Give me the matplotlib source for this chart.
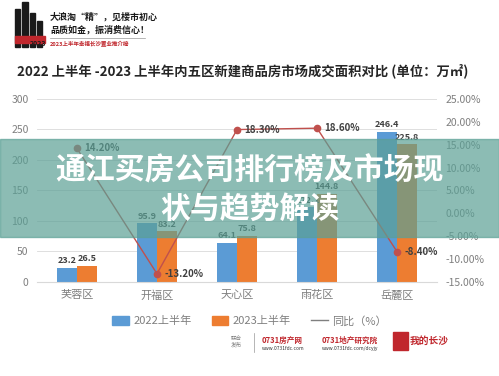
import matplotlib
matplotlib.use("Agg")
import matplotlib.pyplot as plt
import numpy as np
from matplotlib.patches import Rectangle, Patch
from matplotlib.lines import Line2D
from matplotlib.ticker import FuncFormatter

plt.rcParams["font.family"] = ["Noto Sans CJK SC", "DejaVu Sans"]

districts = ["芙蓉区", "开福区", "天心区", "雨花区", "岳麓区"]
area_2022 = [23.2, 95.9, 64.1, 122.1, 246.4]
area_2023 = [26.5, 83.2, 75.8, 144.8, 225.8]
yoy_pct = [14.2, -13.2, 18.3, 18.6, -8.4]

BLUE = "#5B9BD5"
ORANGE = "#ED7D31"
RED = "#C0504D"
TXT = "#404040"
GRAY = "#7F7F7F"

fig = plt.figure(figsize=(4.99, 3.76), dpi=100)
fig.patch.set_facecolor("white")

ax = fig.add_axes([0.074, 0.250, 0.802, 0.487])
ax2 = ax.twinx()

x = np.arange(len(districts))
w = 0.245
b1 = ax.bar(x - w / 2, area_2022, w, color=BLUE, label="2022上半年", zorder=2)
b2 = ax.bar(x + w / 2, area_2023, w, color=ORANGE, label="2023上半年", zorder=2)
for bars in (b1, b2):
    for r in bars:
        ax.text(r.get_x() + r.get_width() / 2, r.get_height() + 4,
                f"{r.get_height():.1f}", ha="center", va="bottom",
                fontsize=6.5, color=TXT, fontweight="bold")

ax.set_xlim(-0.5, 4.5)
ax.set_ylim(0, 300)
ax.set_yticks(range(0, 301, 50))
ax.set_xticks(x)
ax.set_xticklabels(districts, fontsize=8, color=GRAY)
ax.tick_params(axis="y", labelsize=7.5, colors=GRAY, length=0, pad=6)
ax.tick_params(axis="x", length=0, pad=6)
ax.grid(axis="y", color="#D9D9D9", lw=0.6, zorder=0)
for s in ("top", "left", "right"):
    ax.spines[s].set_visible(False)
ax.spines["bottom"].set_color("#D9D9D9")

yoy = np.array(yoy_pct) / 100
ax2.plot(x, yoy, color=RED, lw=1.0, marker="o", markersize=4.5, zorder=3,
         label="同比（%）")
for xi, v in zip(x, yoy_pct):
    ax2.text(xi + 0.09, v / 100, f"{v:.2f}%", ha="left", va="center",
             fontsize=7, color=TXT, fontweight="bold")
ax2.set_ylim(-0.15, 0.25)
ax2.set_yticks(np.arange(-0.15, 0.2501, 0.05))
ax2.yaxis.set_major_formatter(FuncFormatter(lambda v, p: f"{v * 100:.2f}%"))
ax2.tick_params(axis="y", labelsize=7.5, colors=GRAY, length=0, pad=6)
for s in ("top", "left", "right", "bottom"):
    ax2.spines[s].set_visible(False)

handles = [Patch(color=BLUE, label="2022上半年"),
           Patch(color=ORANGE, label="2023上半年"),
           Line2D([0], [0], color=GRAY, lw=1.0, label="同比（%）")]
leg = fig.legend(handles=handles, loc="center", bbox_to_anchor=(0.5, 0.146),
                 ncol=3, frameon=False, fontsize=8, handlelength=1.5,
                 handleheight=0.8, columnspacing=1.8, handletextpad=0.4)
for t in leg.get_texts():
    t.set_color(GRAY)

# title
fig.text(0.034, 0.813, "2022 上半年 -2023 上半年内五区新建商品房市场成交面积对比 (单位：万㎡)",
         fontsize=9.6, fontweight="bold", color="#262626", ha="left", va="center")

# header block
for (lx, lw, lh) in [(0.030, 0.010, 0.10), (0.044, 0.012, 0.12), (0.060, 0.010, 0.09), (0.074, 0.010, 0.07)]:
    fig.patches.append(Rectangle((lx, 0.875), lw, lh, transform=fig.transFigure,
                                 color="#1a1a1a"))
fig.patches.append(Rectangle((0.030, 0.885), 0.060, 0.02, transform=fig.transFigure,
                             color="#C0272D"))
fig.text(0.060, 0.877, "2023", fontsize=5, color="#1a1a1a", fontweight="bold")
fig.text(0.100, 0.955, "大浪淘“精”，见楼市初心", fontsize=6.5, color="#1a1a1a",
         fontweight="bold", va="center")
fig.text(0.100, 0.920, "品质如金，振消费信心！", fontsize=6.5, color="#1a1a1a",
         fontweight="bold", va="center")
fig.add_artist(Line2D([0.100, 0.290], [0.900, 0.900], color="#999999", lw=0.5))
fig.text(0.100, 0.883, "2023上半年幸福长沙置业推介榜", fontsize=4, color="#C0272D",
         fontweight="bold", va="center")

# footer
fig.text(0.474, 0.090, "联合\n发布", fontsize=4, color=GRAY, ha="center", va="center")
fig.add_artist(Line2D([0.509, 0.509], [0.065, 0.115], color="#999999", lw=0.5))
fig.text(0.525, 0.095, "0731房产网", fontsize=5.5, color="#C0272D", fontweight="bold", va="center")
fig.text(0.525, 0.072, "www.0731fdc.com", fontsize=3.5, color="#333333", va="center")
fig.text(0.645, 0.095, "0731地产研究院", fontsize=5.5, color="#C0272D", fontweight="bold", va="center")
fig.text(0.645, 0.072, "www.0731fdc.com/dcyjy", fontsize=3.5, color="#333333", va="center")
fig.patches.append(Rectangle((0.787, 0.068), 0.030, 0.050, transform=fig.transFigure,
                             color="#C0272D"))
fig.text(0.822, 0.093, "我的长沙", fontsize=7, color="#C0272D", fontweight="bold", va="center")

# overlay banner
fig.patches.append(Rectangle((0, 1 - 237 / 376), 1, 98 / 376, transform=fig.transFigure,
                             color="#5BA095", alpha=0.7, zorder=10))
fig.text(0.5, 1 - 171 / 376, "通江买房公司排行榜及市场现", fontsize=21.5,
         fontweight="bold", color="white", ha="center", va="center", zorder=11)
fig.text(0.5, 1 - 209 / 376, "状与趋势解读", fontsize=21.5,
         fontweight="bold", color="white", ha="center", va="center", zorder=11)

fig.savefig("out.png", dpi=100)
